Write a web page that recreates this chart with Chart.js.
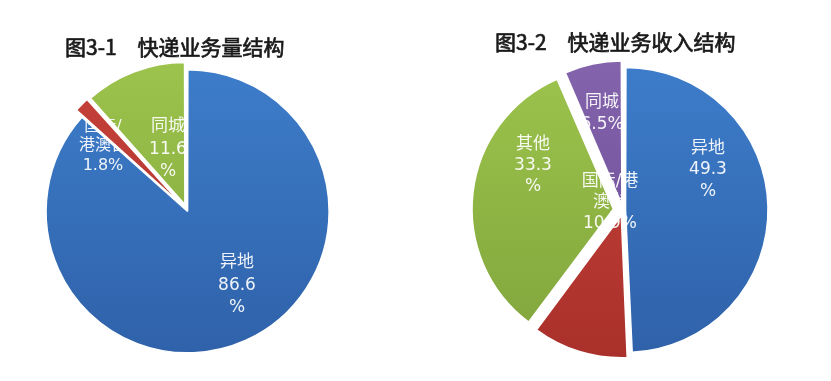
<!DOCTYPE html>
<html><head><meta charset="utf-8">
<script src="https://cdn.jsdelivr.net/npm/chart.js@4.4.1/dist/chart.umd.min.js"></script>
<style>
html,body{margin:0;padding:0;background:#fff;}
#wrap{position:relative;width:831px;height:381px;overflow:hidden;background:#fff;}
canvas{position:absolute;top:0;}
</style></head><body>
<div id="wrap">
<canvas id="c1" width="415" height="381" style="left:0;width:415px;height:381px"></canvas>
<canvas id="c2" width="416" height="381" style="left:415px;width:416px;height:381px"></canvas>
</div>
<script>
// ---- data ----
const volTitle = '图3-1　快递业务量结构';
const volCategories = ['异地', '国际/港澳台', '同城'];
const volShares = [86.6, 1.8, 11.6];

const revTitle = '图3-2　快递业务收入结构';
const revCategories = ['异地', '国际/港澳台', '其他', '同城'];
const revShares = [49.3, 10.9, 33.3, 6.5];

// ---- style ----
const volColors = [['#3e7ecc', '#2e60a7'], ['#c8433b', '#a82f2a'], ['#9ec54d', '#7fa33b']];
const revColors = [['#3e7ecc', '#2e60a7'], ['#c8433b', '#a82f2a'], ['#9ec54d', '#7fa33b'], ['#8565ae', '#684891']];
const volShift = [3, 9, 8];          // explode distance in px
const revShift = [5, 8, 11, 9];
const volLabelPos = [[50, 75.5], [-84, -64], [-19, -60.5]];   // label block centre relative to pie centre
const revLabelPos = [[85, -40], [-13, -7], [-90, -44], [-21, -96.5]];
const volLabelWrap = [48, 50, 48];
const revLabelWrap = [48, 60, 48, 48];
const volLabelSize = [17, 16, 17];
const revLabelSize = [17, 17, 17, 17];
const volLineH = [22.5, 19.5, 22.5];
const revLineH = [21.5, 21, 21, 22];

function offsetFor(shares, shifts) {
  return shares.map((s, i) => {
    const circ = s / 100 * Math.PI * 2;
    const fix = 1 - Math.sin(Math.min(Math.PI, circ));
    return shifts[i] * 4 / (1 + fix);
  });
}

function wrapLines(ctx, text, maxW) {
  const out = [];
  text.split('\n').forEach(part => {
    let line = '';
    for (const ch of part) {
      const test = line + ch;
      if (line && ctx.measureText(test).width > maxW) { out.push(line); line = ch; }
      else line = test;
    }
    out.push(line);
  });
  return out;
}

const pieLabels = {
  id: 'pieLabels',
  afterDatasetsDraw(chart, args, opts) {
    const ctx = chart.ctx;
    const meta = chart.getDatasetMeta(0);
    const cats = chart.data.labels;
    const vals = chart.data.datasets[0].data;
    ctx.save();
    ctx.fillStyle = 'rgba(255,255,255,0.92)';
    ctx.textAlign = 'center';
    ctx.textBaseline = 'middle';
    meta.data.forEach((arc, i) => {
      ctx.font = opts.sizes[i] + 'px "DejaVu Sans", "Noto Sans CJK SC", sans-serif';
      const lines = wrapLines(ctx, cats[i] + '\n' + vals[i].toFixed(1) + '%', opts.wrap[i]);
      const lh = opts.lineH[i];
      const cx = arc.x + opts.pos[i][0];
      const cy = arc.y + opts.pos[i][1] - (lines.length - 1) * lh / 2;
      lines.forEach((ln, k) => ctx.fillText(ln, cx, cy + k * lh));
    });
    ctx.restore();
    (opts.onTop || []).forEach(i => meta.data[i].draw(ctx));
  }
};

const panelTitle = {
  id: 'panelTitle',
  afterDraw(chart, args, opts) {
    const ctx = chart.ctx;
    ctx.save();
    ctx.font = '21px "Noto Sans CJK SC", sans-serif';
    ctx.fillStyle = '#1a1a1a';
    ctx.strokeStyle = '#1a1a1a';
    ctx.lineWidth = 0.7;
    ctx.textAlign = 'left';
    ctx.textBaseline = 'middle';
    ctx.fillText(opts.text, opts.x, opts.y);
    ctx.strokeText(opts.text, opts.x, opts.y);
    ctx.restore();
  }
};

function gradFill(colors) {
  const cache = {};
  return (c) => {
    const area = c.chart.chartArea;
    const i = c.dataIndex;
    if (!area) return colors[i][0];
    if (!cache[i]) {
      const g = c.chart.ctx.createLinearGradient(0, area.top, 0, area.bottom);
      g.addColorStop(0, colors[i][0]);
      g.addColorStop(1, colors[i][1]);
      cache[i] = g;
    }
    return cache[i];
  };
}

function makePie(id, cats, shares, colors, shifts, padding, labelOpts, titleOpts) {
  return new Chart(document.getElementById(id), {
    type: 'pie',
    data: {
      labels: cats,
      datasets: [{
        data: shares,
        backgroundColor: gradFill(colors),
        borderColor: '#ffffff',
        borderWidth: 1.5,
        offset: offsetFor(shares, shifts),
        clip: false
      }]
    },
    options: {
      responsive: false,
      animation: false,
      events: [],
      radius: 140,
      layout: { padding },
      plugins: {
        legend: { display: false },
        tooltip: { enabled: false },
        pieLabels: labelOpts,
        panelTitle: titleOpts
      }
    },
    plugins: [pieLabels, panelTitle]
  });
}

makePie('c1', volCategories, volShares, volColors, volShift,
  { left: 27, right: 68, top: 50, bottom: 11 },
  { pos: volLabelPos, wrap: volLabelWrap, sizes: volLabelSize, lineH: volLineH, onTop: [1] },
  { text: volTitle, x: 65, y: 47 });

makePie('c2', revCategories, revShares, revColors, revShift,
  { left: 48, right: 48, top: 50, bottom: 11 },
  { pos: revLabelPos, wrap: revLabelWrap, sizes: revLabelSize, lineH: revLineH, onTop: [] },
  { text: revTitle, x: 80, y: 42.5 });
</script>
</body></html>
